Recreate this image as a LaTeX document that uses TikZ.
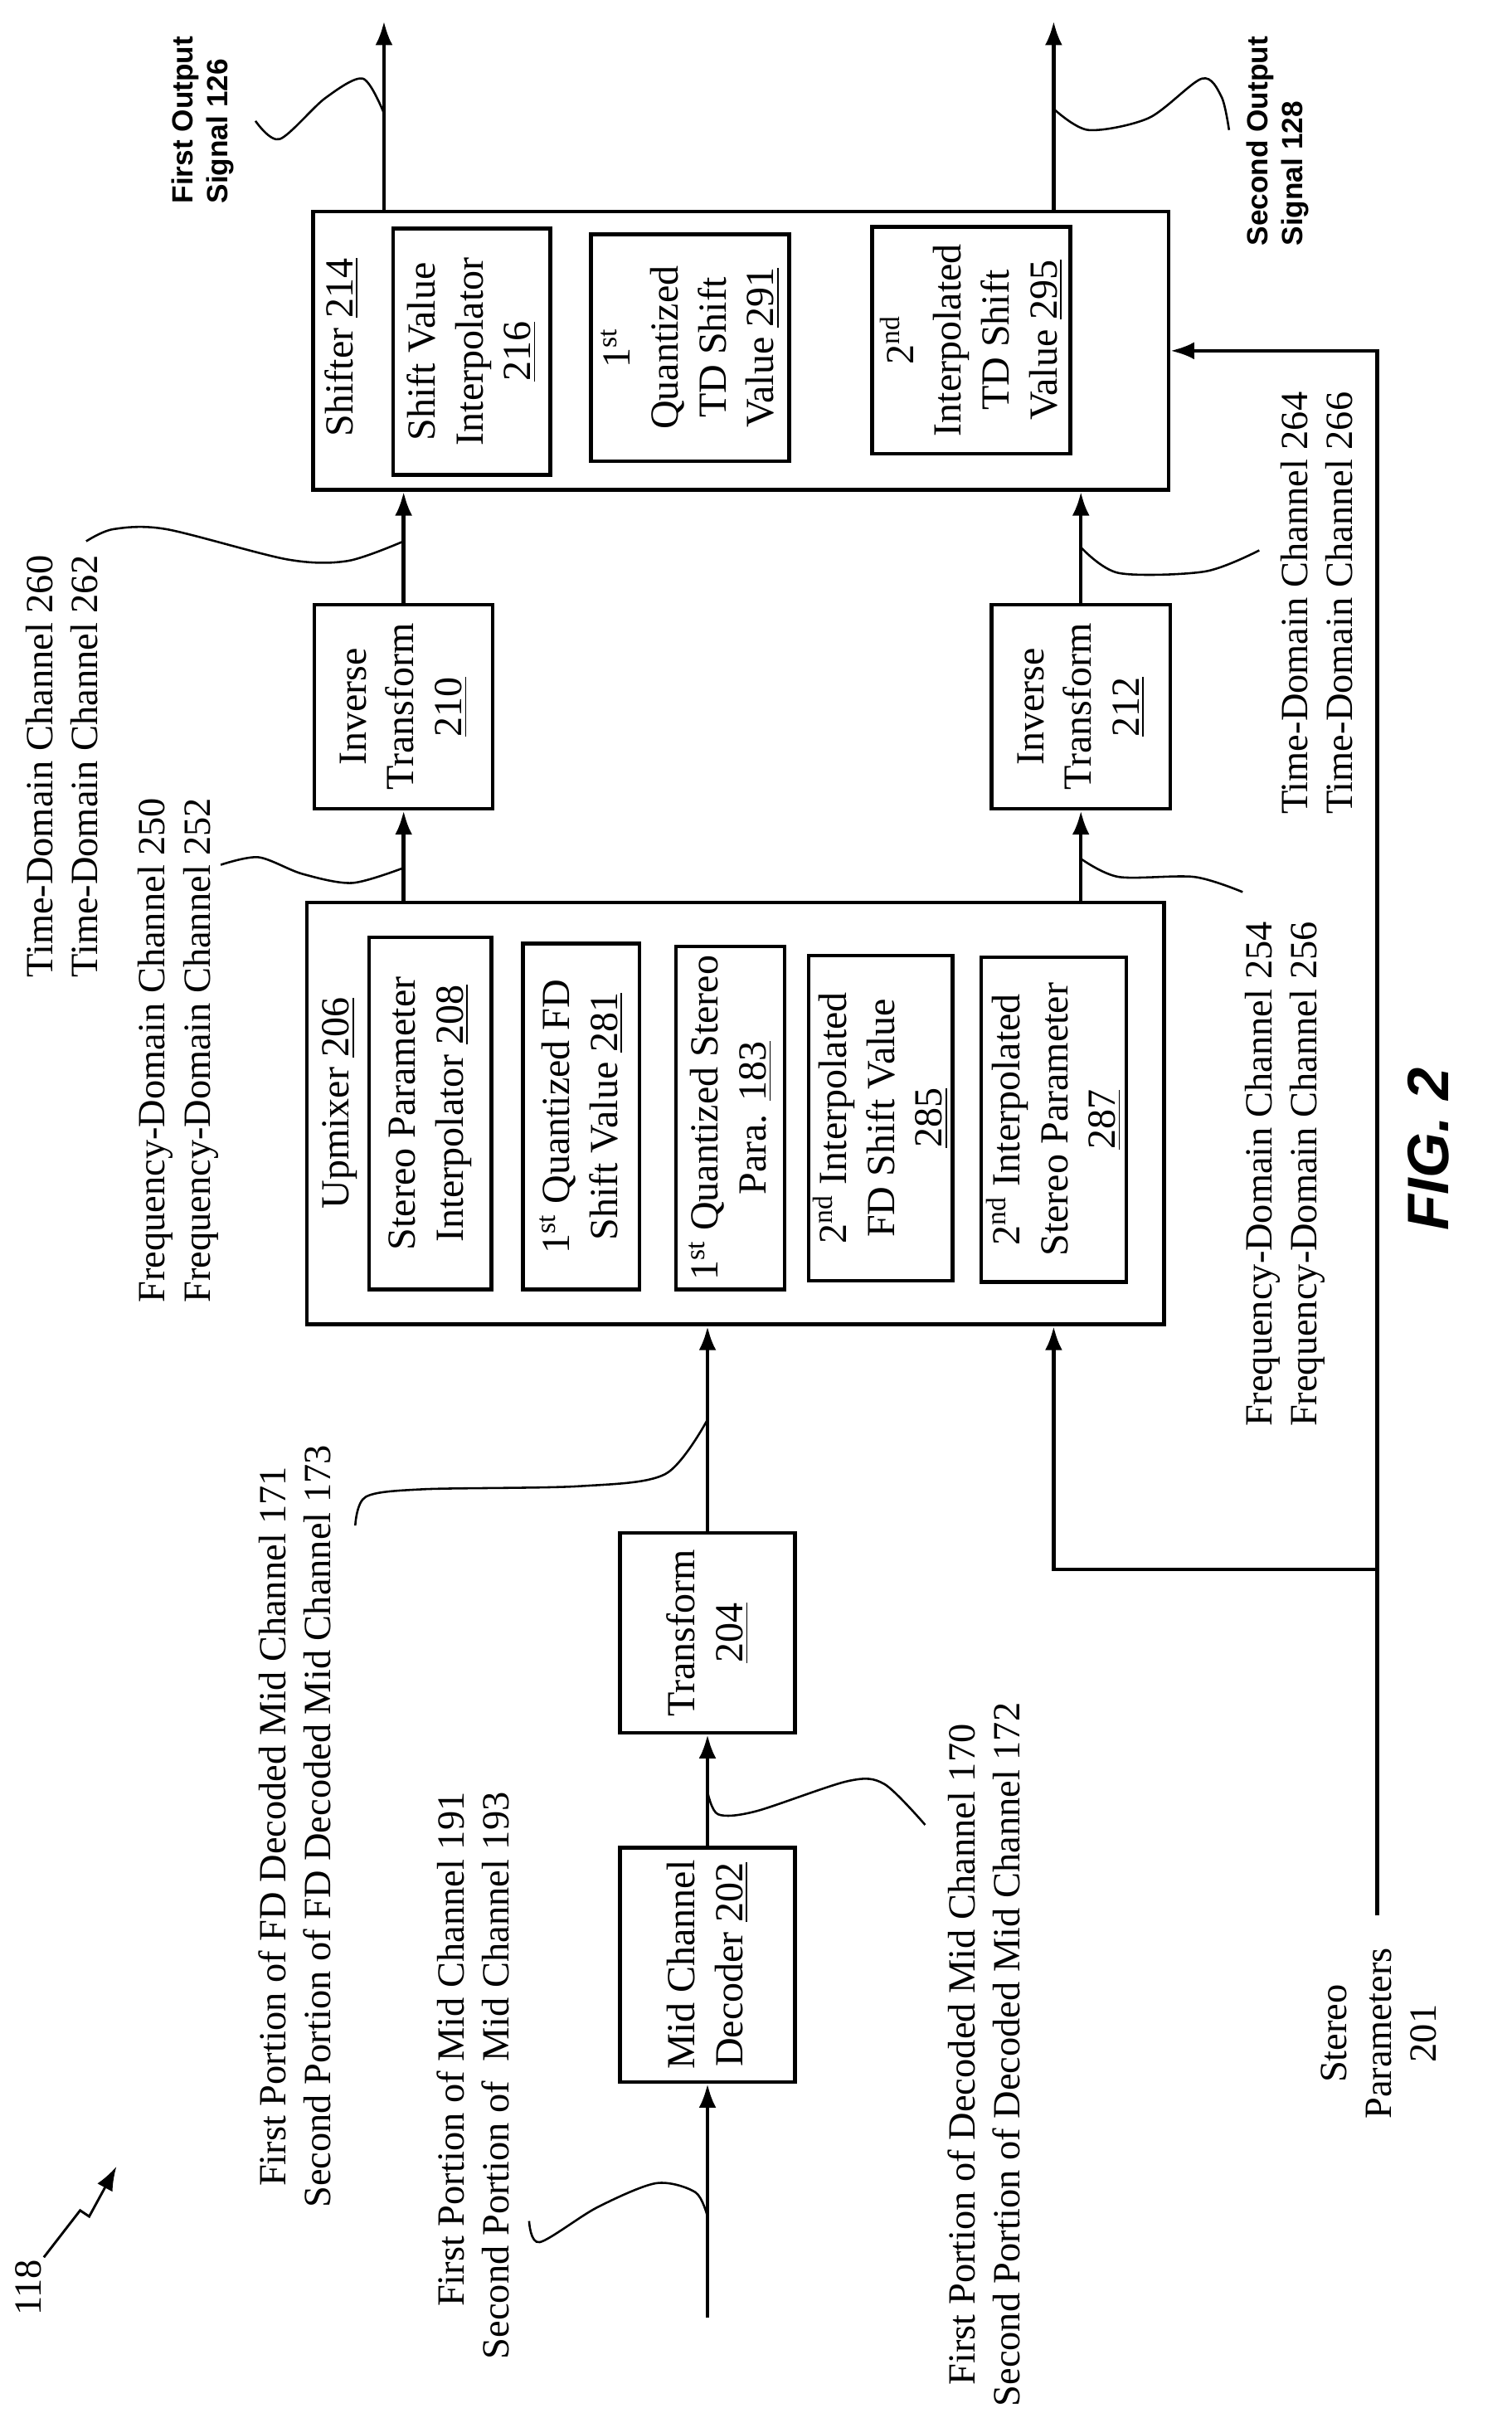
\documentclass[tikz,border=0pt]{standalone}
\usepackage{fontspec}
\setmainfont{Liberation Serif}
\setsansfont{Liberation Sans}
\usetikzlibrary{arrows.meta}
\begin{document}
\begin{tikzpicture}[
x=0.02cm, y=-0.02cm,
blk/.style={
    draw,
    rectangle,
    line width=1.4pt,
    rotate=90,
    align=center,
    inner sep=1pt,
    font=\fontsize{15}{18}\selectfont},
lbl/.style={
    rotate=90,
    inner sep=0pt,
    font=\fontsize{14.5}{17}\selectfont},
sig/.style={
    rotate=90,
    inner sep=0pt,
    align=left,
    font=\sffamily\bfseries\fontsize{11}{13}\selectfont},
arr/.style={line width=1.4pt, -{Latex[length=9pt,width=6.5pt]}},
wave/.style={line width=0.8pt}
]
\useasboundingbox (0,0) rectangle (1000,1596);

% shifter
\node (shifter) at (490,232) [blk, minimum width=3.68cm, minimum height=11.32cm] {};
\node (shiftertitle) at (226,289) [lbl, font=\fontsize{15}{18}\selectfont, anchor=west] {Shifter \underline{214}};
\node (svi) at (312,232.5) [blk, minimum width=3.26cm, minimum height=2.08cm] {Shift Value\\Interpolator\\\underline{216}};
\node (qtd) at (456.5,230) [blk, minimum width=3cm, minimum height=2.62cm] {1\textsuperscript{st}\\Quantized\\TD Shift\\Value \underline{291}};
\node (itd) at (642.5,225) [blk, minimum width=3cm, minimum height=2.62cm] {2\textsuperscript{nd}\\Interpolated\\TD Shift\\Value \underline{295}};

% inverse transforms
\node (inva) at (267,467.5) [blk, minimum width=2.7cm, minimum height=2.36cm] {Inverse\\Transform\\\underline{210}};
\node (invb) at (715,467.5) [blk, minimum width=2.7cm, minimum height=2.36cm] {Inverse\\Transform\\\underline{212}};

% upmixer
\node (upmixer) at (486.5,736.5) [blk, minimum width=5.58cm, minimum height=11.34cm] {};
\node (upmixertitle) at (225,800) [lbl, font=\fontsize{15}{18}\selectfont, anchor=west] {Upmixer \underline{206}};
\node (spi) at (284.5,736.5) [blk, minimum width=4.66cm, minimum height=1.62cm] {Stereo Parameter\\Interpolator \underline{208}};
\node (qfd) at (384.5,738.5) [blk, minimum width=4.58cm, minimum height=1.54cm] {1\textsuperscript{st} Quantized FD\\Shift Value \underline{281}};
\node (qsp) at (483,739.5) [blk, minimum width=4.54cm, minimum height=1.44cm] {1\textsuperscript{st} Quantized Stereo\\Para. \underline{183}};
\node (ifd) at (582.5,739.5) [blk, minimum width=4.3cm, minimum height=1.9cm] {2\textsuperscript{nd} Interpolated\\FD Shift Value\\\underline{285}};
\node (isp) at (697,740.5) [blk, minimum width=4.3cm, minimum height=1.92cm] {2\textsuperscript{nd} Interpolated\\Stereo Parameter\\\underline{287}};

% transform and decoder
\node (transform) at (468,1080) [blk, minimum width=2.64cm, minimum height=2.32cm] {Transform\\\underline{204}};
\node (decoder) at (468,1299.5) [blk, minimum width=3.1cm, minimum height=2.32cm] {Mid Channel\\Decoder \underline{202}};

\coordinate (in) at (468,1533);
\coordinate (outa) at (254,14);
\coordinate (outb) at (697,14);
\coordinate (sp) at (911,1267);
\coordinate (br) at (911,1038);

\draw[arr] (in) -- (decoder);
\draw[arr] (decoder) -- (transform);
\draw[arr] (transform.east) -- (transform.east |- upmixer.west);
\draw[arr] (br) -| (isp.east |- upmixer.west);
\draw[line width=1.4pt] (sp) -- (br);
\draw[arr] (br) |- (shifter.south);
\draw[arr] (inva.west |- upmixer.east) -- (inva.west);
\draw[arr] (invb.west |- upmixer.east) -- (invb.west);
\draw[arr] (inva.east) -- (inva.east |- shifter.west);
\draw[arr] (invb.east) -- (invb.east |- shifter.west);
\draw[arr] (outa |- shifter.east) -- (outa);
\draw[arr] (outb |- shifter.east) -- (outb);

% labels
\node (sigone) at (134,135) [sig, anchor=west] {First Output\\Signal 126};
\node (sigtwo) at (845,163) [sig, anchor=west] {Second Output\\Signal 128};
\node (tdab) at (41,647) [lbl, anchor=west, align=left] {Time-Domain Channel 260\\Time-Domain Channel 262};
\node (tdcd) at (871,539) [lbl, anchor=west, align=left] {Time-Domain Channel 264\\Time-Domain Channel 266};
\node (fdab) at (118,862) [lbl, anchor=west, align=left] {Frequency-Domain Channel 250\\Frequency-Domain Channel 252};
\node (fdcd) at (850,944) [lbl, anchor=west, align=left] {Frequency-Domain Channel 254\\Frequency-Domain Channel 256};
\node (fdmid) at (195,1208) [lbl, align=center] {First Portion of FD Decoded Mid Channel 171\\Second Portion of FD Decoded Mid Channel 173};
\node (midin) at (313,1185) [lbl, anchor=east, align=right] {First Portion of Mid Channel 191\\Second Portion of\ \ Mid Channel 193};
\node (decmid) at (651,1359) [lbl, align=center] {First Portion of Decoded Mid Channel 170\\Second Portion of Decoded Mid Channel 172};
\node (stereo) at (912,1345) [lbl, align=center] {Stereo\\Parameters\\201};
\node (ref) at (19,1513) [lbl] {118};
\node (fig) at (945,760) [rotate=90, font=\sffamily\bfseries\itshape\fontsize{22}{26}\selectfont] {FIG. 2};
\draw[arr, line width=0.9pt] (29,1493) -- (53,1462) -- (59,1466) -- (77,1433);

% waves
\draw[wave] plot[smooth] coordinates {(254,75) (240,52) (215,65) (185,92) (169,80)};
\draw[wave] plot[smooth] coordinates {(697,72) (720,86) (760,78) (795,52) (808,64) (813,86)};
\draw[wave] plot[smooth] coordinates {(267,358) (230,371) (190,370) (110,350) (75,350) (57,358)};
\draw[wave] plot[smooth] coordinates {(715,362) (740,379) (797,378) (833,364)};
\draw[wave] plot[smooth] coordinates {(267,574) (233,584) (200,578) (171,567) (146,572)};
\draw[wave] plot[smooth] coordinates {(715,568) (740,580) (790,580) (822,590)};
\draw[wave] plot[smooth] coordinates {(468,939) (440,975) (383,983) (280,985) (242,990) (235,1009)};
\draw[wave] plot[smooth] coordinates {(468,1466) (460,1450) (434,1444) (395,1460) (357,1483) (350,1469)};
\draw[wave] plot[smooth] coordinates {(468,1185) (475,1200) (500,1198) (561,1178) (585,1180) (612,1207)};

\end{tikzpicture}
\end{document}
